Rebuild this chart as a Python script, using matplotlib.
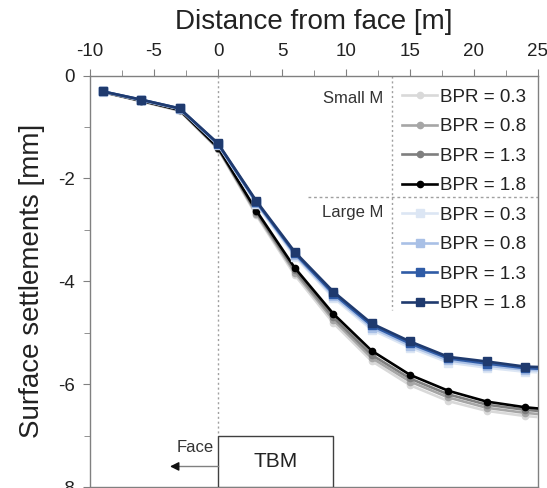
import numpy as np
import matplotlib
matplotlib.use("Agg")
import matplotlib.pyplot as plt
import matplotlib.patches as patches

plt.rcParams['font.family'] = ['Liberation Sans', 'DejaVu Sans']
plt.rcParams['axes.unicode_minus'] = False

# distance from face [m]
dist = [-9, -6, -3, 0, 3, 6, 9, 12, 15, 18, 21, 24, 27]
bpr_labels = ["BPR = 0.3", "BPR = 0.8", "BPR = 1.3", "BPR = 1.8"]

# surface settlements [mm], small M
small_03 = [-0.33, -0.50, -0.69, -1.43, -2.72, -3.88, -4.81, -5.55, -6.02, -6.33, -6.52, -6.62, -6.68]
small_08 = [-0.32, -0.50, -0.68, -1.42, -2.69, -3.83, -4.75, -5.49, -5.95, -6.26, -6.46, -6.56, -6.62]
small_13 = [-0.32, -0.49, -0.67, -1.41, -2.66, -3.79, -4.70, -5.43, -5.89, -6.20, -6.40, -6.50, -6.56]
small_18 = [-0.32, -0.49, -0.67, -1.40, -2.63, -3.74, -4.63, -5.35, -5.82, -6.13, -6.34, -6.45, -6.52]

# surface settlements [mm], large M
large_03 = [-0.32, -0.48, -0.65, -1.35, -2.50, -3.52, -4.32, -4.94, -5.29, -5.58, -5.68, -5.76, -5.79]
large_08 = [-0.31, -0.48, -0.65, -1.34, -2.48, -3.49, -4.28, -4.90, -5.25, -5.54, -5.64, -5.72, -5.75]
large_13 = [-0.31, -0.47, -0.64, -1.33, -2.46, -3.46, -4.24, -4.86, -5.21, -5.50, -5.60, -5.69, -5.72]
large_18 = [-0.31, -0.47, -0.64, -1.32, -2.44, -3.43, -4.20, -4.82, -5.17, -5.47, -5.56, -5.66, -5.68]

small_list = [small_03, small_08, small_13, small_18]
large_list = [large_03, large_08, large_13, large_18]
small_colors = ["#D9D9D9", "#A6A6A6", "#7F7F7F", "#000000"]
large_colors = ["#DCE6F4", "#A9C0E6", "#2F5BA6", "#1F3A6E"]

fig = plt.figure(figsize=(5.47, 4.88), dpi=100)
ax = fig.add_axes([90 / 547, 1 / 488, 448 / 547, 411.5 / 488])

small_handles = []
for k in range(4):
    h, = ax.plot(dist, small_list[k], color=small_colors[k], marker="o", markersize=4.5,
                 linewidth=1.9, clip_on=True, zorder=3 + k)
    small_handles.append(h)
large_handles = []
for k in range(4):
    h, = ax.plot(dist, large_list[k], color=large_colors[k], marker="s", markersize=6,
                 linewidth=1.9, clip_on=True, zorder=8 + k)
    large_handles.append(h)

ax.set_xlim(-10, 25)
ax.set_ylim(-8, 0)
ax.xaxis.set_ticks_position("top")
ax.xaxis.set_label_position("top")
ax.set_xticks([-10, -5, 0, 5, 10, 15, 20, 25])
ax.set_xticks(np.arange(-10, 25.1, 2.5), minor=True)
ax.set_yticks([0, -2, -4, -6, -8])
ax.set_yticks(np.arange(-8, 0.1, 1), minor=True)
ax.tick_params(axis="both", which="both", direction="out", color="#808080", labelcolor="#222222",
               labelsize=13.5)
ax.tick_params(axis="both", which="major", length=5)
ax.tick_params(axis="both", which="minor", length=4)
ax.tick_params(axis="x", pad=6)
ax.tick_params(axis="y", pad=6)
for s in ax.spines.values():
    s.set_color("#808080")
    s.set_linewidth(1.0)

ax.set_xlabel("Distance from face [m]", fontsize=20, color="#222222", labelpad=10)
ax.set_ylabel("Surface settlements [mm]", fontsize=20, color="#222222", labelpad=9)

# face line and TBM
ax.plot([0, 0], [0, -7], color="#A0A0A0", linestyle=(0, (1.5, 2)), linewidth=1.0, zorder=1)
tbm = patches.Rectangle((0, -8), 9, 1, facecolor="white", edgecolor="#404040", linewidth=1.0, zorder=12)
ax.add_patch(tbm)
ax.text(4.5, -7.5, "TBM", ha="center", va="center", fontsize=15, color="#222222", zorder=13)
ax.plot([-3.2, 0], [-7.6, -7.6], color="#808080", linewidth=1.0, zorder=13)
ax.annotate("", xy=(-3.75, -7.6), xytext=(-3.1, -7.6),
            arrowprops=dict(arrowstyle="-|>", color="#111111", lw=1.0, mutation_scale=13,
                            shrinkA=0, shrinkB=0), zorder=14)
ax.text(-0.35, -7.23, "Face", ha="right", va="center", fontsize=12, color="#333333")

# legend decorations
ax.plot([13.6, 13.6], [0, -4.55], color="#A0A0A0", linestyle=(0, (1.5, 2)), linewidth=1.0, zorder=1)
ax.plot([7.0, 25], [-2.36, -2.36], color="#A0A0A0", linestyle=(0, (2, 2)), linewidth=1.0, zorder=1)
ax.text(12.9, -0.44, "Small M", ha="right", va="center", fontsize=12, color="#333333")
ax.text(12.9, -2.67, "Large M", ha="right", va="center", fontsize=12, color="#333333")

leg1 = ax.legend(small_handles, bpr_labels, loc="upper left", bbox_to_anchor=(0.696, 0.968),
                 frameon=False, fontsize=13.5, handlelength=1.9, handletextpad=0.15,
                 borderpad=0, borderaxespad=0, labelspacing=0.66)
for t in leg1.get_texts():
    t.set_color("#222222")
ax.add_artist(leg1)
leg2 = ax.legend(large_handles, bpr_labels, loc="upper left", bbox_to_anchor=(0.696, 0.681),
                 frameon=False, fontsize=13.5, handlelength=1.9, handletextpad=0.15,
                 borderpad=0, borderaxespad=0, labelspacing=0.66)
for t in leg2.get_texts():
    t.set_color("#222222")

fig.savefig("out.png", dpi=100)
